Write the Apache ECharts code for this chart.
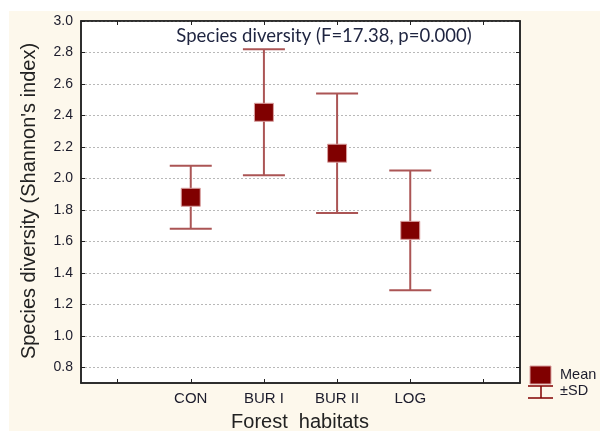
<!DOCTYPE html>
<html>
<head>
<meta charset="utf-8">
<script src="https://cdn.jsdelivr.net/npm/echarts@6/dist/echarts.min.js"></script>
<style>
  html, body { margin: 0; padding: 0; background: #ffffff; }
  #wrap { position: relative; width: 600px; height: 431px; }
  #paper { position: absolute; left: 9px; top: 11px; right: 0; bottom: 0; background: #fdf8ec; }
  #chart { position: absolute; left: 0; top: 0; width: 600px; height: 431px; }
</style>
</head>
<body>
<div id="wrap">
  <div id="paper"></div>
  <div id="chart"></div>
</div>
<script>
// Shannon diversity per forest habitat: mean and standard deviation
const habitats = ['CON', 'BUR I', 'BUR II', 'LOG'];
const means = [1.88, 2.42, 2.16, 1.67];
const sds = [0.20, 0.40, 0.38, 0.38];
const yTicks = [0.8, 1.0, 1.2, 1.4, 1.6, 1.8, 2.0, 2.2, 2.4, 2.6, 2.8, 3.0];
const yMin = 0.7;
const yMax = 3.0;

const chartTitle = 'Species diversity (F=17.38, p=0.000)';
const xTitle = 'Forest  habitats';
const yTitle = "Species diversity (Shannon's index)";

// empty slots on both ends leave room around the four habitats
const xCats = [''].concat(habitats, ['']);
const points = habitats.map((h, i) => [i + 1, means[i], sds[i]]);

const markColor = '#800000';
const whiskerColor = '#ab5555';
const labelColor = '#1c1c2c';
const labelFont = '"Liberation Sans", Arial, sans-serif';

function renderItem(params, api) {
  const x = api.value(0);
  const m = api.value(1);
  const sd = api.value(2);
  const c = api.coord([x, m]);
  const hi = api.coord([x, m + sd]);
  const lo = api.coord([x, m - sd]);
  const half = 21;
  const ls = { stroke: whiskerColor, lineWidth: 2 };
  return {
    type: 'group',
    children: [
      { type: 'line', shape: { x1: c[0], y1: hi[1], x2: c[0], y2: lo[1] }, style: ls },
      { type: 'line', shape: { x1: c[0] - half, y1: hi[1], x2: c[0] + half, y2: hi[1] }, style: ls },
      { type: 'line', shape: { x1: c[0] - half, y1: lo[1], x2: c[0] + half, y2: lo[1] }, style: ls },
      { type: 'rect', shape: { x: c[0] - 9.5, y: c[1] - 9, width: 19, height: 18 },
        style: { fill: markColor, stroke: '#d9a0a0', lineWidth: 1 } }
    ]
  };
}

const chart = echarts.init(document.getElementById('chart'), null, { renderer: 'canvas' });

const tickStyle = { show: true, inside: true, length: 4, lineStyle: { color: '#222', width: 1 } };

chart.setOption({
  backgroundColor: 'transparent',
  animation: false,
  grid: {
    left: 81, right: 80, top: 21, bottom: 48,
    show: true, backgroundColor: '#ffffff', borderColor: '#222', borderWidth: 1.5
  },
  xAxis: [
    {
      type: 'category', data: xCats, position: 'bottom', boundaryGap: true,
      axisLine: { show: true, lineStyle: { color: '#222', width: 1.5 } },
      axisTick: Object.assign({ alignWithLabel: true, interval: 0 }, tickStyle),
      axisLabel: { interval: 0, color: labelColor, fontFamily: labelFont, fontSize: 15, margin: 8 },
      splitLine: { show: false }
    },
    {
      type: 'category', data: xCats, position: 'top', boundaryGap: true,
      axisLine: { show: true, lineStyle: { color: '#222', width: 1.5 } },
      axisTick: Object.assign({ alignWithLabel: true, interval: 0 }, tickStyle),
      axisLabel: { show: false },
      splitLine: { show: false }
    }
  ],
  yAxis: [
    {
      type: 'value', min: yMin, max: yMax, position: 'left',
      axisLine: { show: true, lineStyle: { color: '#222', width: 1.5 } },
      axisTick: Object.assign({ customValues: yTicks }, tickStyle),
      axisLabel: {
        customValues: yTicks, color: labelColor, fontFamily: labelFont, fontSize: 14, margin: 8,
        formatter: v => v.toFixed(1)
      },
      splitLine: { show: true, lineStyle: { color: '#b8b8b8', type: [2, 2], width: 1 } }
    },
    {
      type: 'value', min: yMin, max: yMax, position: 'right',
      axisLine: { show: true, lineStyle: { color: '#222', width: 1.5 } },
      axisTick: Object.assign({ customValues: yTicks }, tickStyle),
      axisLabel: { show: false },
      splitLine: { show: false }
    }
  ],
  series: [{
    type: 'custom',
    xAxisIndex: 0,
    yAxisIndex: 0,
    renderItem: renderItem,
    encode: { x: 0, y: 1 },
    data: points,
    clip: false,
    z: 5
  }],
  graphic: [
    { type: 'text', x: 324, y: 36, z: 10,
      style: { text: chartTitle, fill: '#1e2440', font: '18.5px Lato, "Open Sans", sans-serif',
               align: 'center', verticalAlign: 'middle' } },
    { type: 'text', x: 300, y: 422,
      style: { text: xTitle, fill: '#222', font: '20px "Liberation Sans", Arial, sans-serif',
               align: 'center', verticalAlign: 'middle' } },
    { type: 'text', x: 29, y: 201, rotation: Math.PI / 2,
      style: { text: yTitle, fill: '#222', font: '20px "Liberation Sans", Arial, sans-serif',
               align: 'center', verticalAlign: 'middle' } },
    // legend: mean marker and SD whisker
    { type: 'rect', shape: { x: 530, y: 366, width: 21, height: 18 },
      style: { fill: markColor, stroke: '#d9a0a0', lineWidth: 1 } },
    { type: 'line', shape: { x1: 528, y1: 386, x2: 553, y2: 386 }, style: { stroke: markColor, lineWidth: 1.5 } },
    { type: 'line', shape: { x1: 541, y1: 386, x2: 541, y2: 398 }, style: { stroke: markColor, lineWidth: 1.5 } },
    { type: 'line', shape: { x1: 528, y1: 398, x2: 553, y2: 398 }, style: { stroke: markColor, lineWidth: 1.5 } },
    { type: 'text', x: 560, y: 375,
      style: { text: 'Mean', fill: labelColor, font: '14.5px "Liberation Sans", Arial, sans-serif', verticalAlign: 'middle' } },
    { type: 'text', x: 560, y: 391,
      style: { text: '±SD', fill: labelColor, font: '14.5px "Liberation Sans", Arial, sans-serif', verticalAlign: 'middle' } }
  ]
});
</script>
</body>
</html>
